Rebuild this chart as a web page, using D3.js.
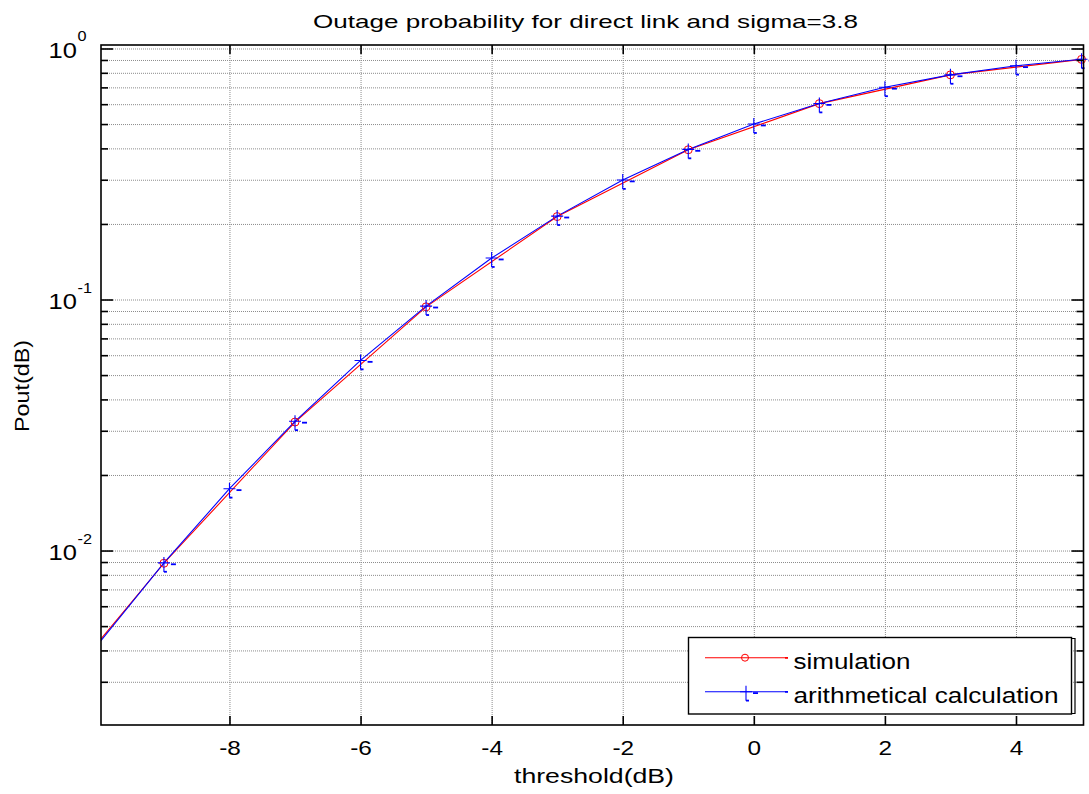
<!DOCTYPE html>
<html>
<head>
<meta charset="utf-8">
<script src="https://cdn.jsdelivr.net/npm/d3@7"></script>
<style>
  html, body { margin: 0; padding: 0; background: #fff; }
  svg { display: block; }
  text { font-family: "Liberation Sans", Arial, Helvetica, sans-serif; fill: #000; }
</style>
</head>
<body>
<svg id="chart" width="1089" height="794"></svg>
<script>
// ---------------- data ----------------
const titleText = "Outage probability for direct link and sigma=3.8";
const xLabelText = "threshold(dB)";
const yLabelText = "Pout(dB)";
const seriesNames = ["simulation", "arithmetical calculation"];

// simulation (red, circles)
const simThreshold = [-11, -9, -7, -5, -3, -1, 1, 3, 5];
const simPout      = [0.0021, 0.0089, 0.0325, 0.0935, 0.2140, 0.3950, 0.6030, 0.7850, 0.9050];

// arithmetical calculation (blue, plus)
const calcThreshold = [-10, -9, -8, -7, -6, -5, -4, -3, -2, -1, 0, 1, 2, 3, 4, 5];
const calcPout      = [0.00425, 0.00893, 0.01763, 0.03273, 0.05718, 0.09412, 0.14627, 0.21490,
                       0.29934, 0.39620, 0.50000, 0.60380, 0.70066, 0.78510, 0.85373, 0.90590];

const xTickValues = [-8, -6, -4, -2, 0, 2, 4];
const xTickLabels = ["-8", "-6", "-4", "-2", "0", "2", "4"];
const yMajorTicks = [0.01, 0.1, 1];
const yMajorLabels = [["10", "-2"], ["10", "-1"], ["10", "0"]];
const yMinorTicks = [0.003, 0.004, 0.005, 0.006, 0.007, 0.008, 0.009,
                     0.02, 0.03, 0.04, 0.05, 0.06, 0.07, 0.08, 0.09,
                     0.2, 0.3, 0.4, 0.5, 0.6, 0.7, 0.8, 0.9];

// ---------------- layout ----------------
const L = 101, R = 1083.5, T = 45, B = 725;
const HS = 1.16; // horizontal stretch of glyphs in the reference

const svg = d3.select("#chart");
svg.append("rect").attr("width", 1089).attr("height", 794).attr("fill", "#fff");

const x = d3.scaleLinear().domain([-9.96, 5.03]).range([L, R]);
const y = d3.scaleLog().domain([Math.pow(10, -2.695), Math.pow(10, 0.0139)]).range([B, T]);

svg.append("rect").attr("x", L).attr("y", T).attr("width", R - L).attr("height", B - T).attr("fill", "#fff");

// ---------------- grid ----------------
const gridStyle = g => {
  g.select(".domain").remove();
  g.selectAll(".tick line").attr("stroke", "#8c8c8c").attr("stroke-width", 1).attr("stroke-dasharray", "1,1");
  g.selectAll(".tick text").remove();
};
svg.append("g").attr("transform", `translate(0,${B})`)
  .call(d3.axisBottom(x).tickValues(xTickValues).tickSize(-(B - T)).tickFormat(""))
  .call(gridStyle);
svg.append("g").attr("transform", `translate(${L},0)`)
  .call(d3.axisLeft(y).tickValues(yMajorTicks.concat(yMinorTicks)).tickSize(-(R - L)).tickFormat(""))
  .call(gridStyle);

// ---------------- lines ----------------
svg.append("clipPath").attr("id", "plotclip").append("rect")
  .attr("x", L).attr("y", T).attr("width", R - L).attr("height", B - T);

const line = d3.line().x(d => x(d[0])).y(d => y(d[1]));
const simData = simThreshold.map((t, i) => [t, simPout[i]]);
const calcData = calcThreshold.map((t, i) => [t, calcPout[i]]);

const plot = svg.append("g").attr("clip-path", "url(#plotclip)");
plot.append("path").datum(simData).attr("d", line).attr("fill", "none").attr("stroke", "#ff0000").attr("stroke-width", 1.1);
plot.append("path").datum(calcData).attr("d", line).attr("fill", "none").attr("stroke", "#0000ff").attr("stroke-width", 1.1);

// markers
const inDomain = d => d[0] >= x.domain()[0] && d[0] <= x.domain()[1];
svg.append("g").selectAll("circle").data(simData.filter(inDomain)).join("circle")
  .attr("cx", d => x(d[0])).attr("cy", d => y(d[1])).attr("r", 4)
  .attr("fill", "none").attr("stroke", "#ff0000").attr("stroke-width", 1);

function plusMarker(g, cx, cy) {
  g.append("path")
    .attr("d", `M${cx - 6},${cy}H${cx + 6}M${cx},${cy - 6}V${cy + 9}`)
    .attr("stroke", "#0000ff").attr("stroke-width", 1.1).attr("fill", "none");
  g.append("rect").attr("x", cx + 7).attr("y", cy + 0.5).attr("width", 5).attr("height", 1.8).attr("fill", "#0000ff");
  g.append("rect").attr("x", cx).attr("y", cy + 8).attr("width", 3).attr("height", 1.8).attr("fill", "#0000ff");
}
const markG = svg.append("g");
calcData.filter(inDomain).forEach(d => plusMarker(markG, x(d[0]), y(d[1])));

// ---------------- axes ----------------
const tickStyle = g => {
  g.select(".domain").remove();
  g.selectAll(".tick line").attr("stroke", "#000").attr("stroke-width", 1.6);
};
// bottom ticks + labels
const xb = svg.append("g").attr("transform", `translate(0,${B})`)
  .call(d3.axisBottom(x).tickValues(xTickValues).tickSize(-9).tickPadding(15)
    .tickFormat(d => xTickLabels[xTickValues.indexOf(d)]))
  .call(tickStyle);
xb.selectAll(".tick text").attr("font-size", 21).attr("fill", "#000")
  .attr("font-family", "'Liberation Sans', Arial, sans-serif")
  .attr("transform", `scale(${HS},1)`);
// top ticks
svg.append("g").attr("transform", `translate(0,${T})`)
  .call(d3.axisTop(x).tickValues(xTickValues).tickSize(-9).tickFormat(""))
  .call(tickStyle);
// left major + minor
const yl = svg.append("g").attr("transform", `translate(${L},0)`)
  .call(d3.axisLeft(y).tickValues(yMajorTicks).tickSize(-12).tickFormat(""))
  .call(tickStyle);
svg.append("g").attr("transform", `translate(${L},0)`)
  .call(d3.axisLeft(y).tickValues(yMinorTicks).tickSize(-7).tickFormat(""))
  .call(tickStyle);
// right major + minor
svg.append("g").attr("transform", `translate(${R},0)`)
  .call(d3.axisRight(y).tickValues(yMajorTicks).tickSize(-12).tickFormat(""))
  .call(tickStyle);
svg.append("g").attr("transform", `translate(${R},0)`)
  .call(d3.axisRight(y).tickValues(yMinorTicks).tickSize(-7).tickFormat(""))
  .call(tickStyle);

// y labels: 10^n
yl.selectAll(".tick").each(function(d) {
  const lab = yMajorLabels[yMajorTicks.indexOf(d)];
  const g = d3.select(this);
  g.append("g").attr("transform", `translate(-24,9) scale(${HS},1)`)
    .append("text").attr("text-anchor", "end").attr("font-size", 22).text(lab[0]);
  g.append("g").attr("transform", `translate(-23.5,-7.5) scale(${HS},1)`)
    .append("text").attr("text-anchor", "start").attr("font-size", 14).text(lab[1]);
});

// frame
svg.append("rect").attr("x", L).attr("y", T).attr("width", R - L).attr("height", B - T)
  .attr("fill", "none").attr("stroke", "#000").attr("stroke-width", 1.6);

// ---------------- titles ----------------
svg.append("text").attr("x", 585.5).attr("y", 28).attr("text-anchor", "middle")
  .attr("font-size", 19).attr("textLength", 545).attr("lengthAdjust", "spacingAndGlyphs").text(titleText);
svg.append("text").attr("x", 594).attr("y", 783).attr("text-anchor", "middle")
  .attr("font-size", 20).attr("textLength", 160).attr("lengthAdjust", "spacingAndGlyphs").text(xLabelText);
svg.append("text").attr("transform", "translate(29,386) rotate(-90)").attr("text-anchor", "middle")
  .attr("font-size", 21).attr("textLength", 92).attr("lengthAdjust", "spacingAndGlyphs").text(yLabelText);

// ---------------- legend ----------------
const lg = svg.append("g");
lg.append("rect").attr("x", 688.5).attr("y", 637.5).attr("width", 383).attr("height", 76.5)
  .attr("fill", "#fff").attr("stroke", "#000").attr("stroke-width", 1.4);
lg.append("path").attr("d", "M1071.5,638.5H1075V713.5H1071.5").attr("fill", "none").attr("stroke", "#000").attr("stroke-width", 1.2);

// simulation entry
lg.append("line").attr("x1", 705).attr("x2", 785).attr("y1", 657.7).attr("y2", 657.7).attr("stroke", "#ff0000").attr("stroke-width", 1.1);
lg.append("rect").attr("x", 785).attr("y", 657).attr("width", 3).attr("height", 1.8).attr("fill", "#ff0000");
lg.append("circle").attr("cx", 745).attr("cy", 657.7).attr("r", 3.5).attr("fill", "none").attr("stroke", "#ff0000").attr("stroke-width", 1);
lg.append("text").attr("x", 793.5).attr("y", 668.5).attr("font-size", 22)
  .attr("textLength", 117).attr("lengthAdjust", "spacingAndGlyphs").text(seriesNames[0]);

// calculation entry
lg.append("line").attr("x1", 705).attr("x2", 785).attr("y1", 691.7).attr("y2", 691.7).attr("stroke", "#0000ff").attr("stroke-width", 1.1);
lg.append("rect").attr("x", 785).attr("y", 691).attr("width", 3).attr("height", 1.8).attr("fill", "#0000ff");
plusMarker(lg, 746, 691.7);
lg.append("text").attr("x", 793.5).attr("y", 702.5).attr("font-size", 22)
  .attr("textLength", 265).attr("lengthAdjust", "spacingAndGlyphs").text(seriesNames[1]);
</script>
</body>
</html>
